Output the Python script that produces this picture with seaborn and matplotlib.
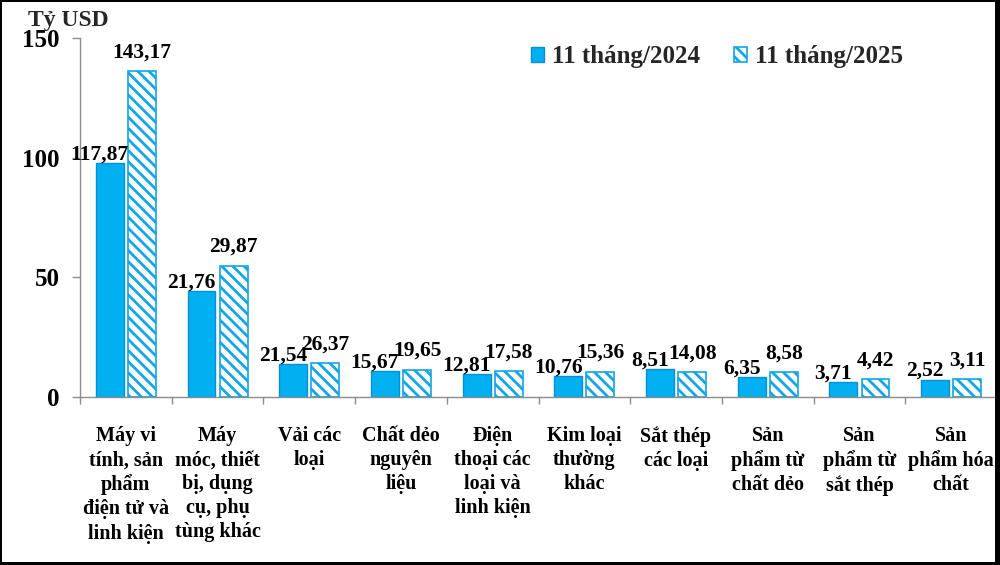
import matplotlib
matplotlib.use("Agg")
import matplotlib.pyplot as plt
from matplotlib.patches import Patch, Rectangle
import seaborn as sns
import pandas as pd

# ---------------- data ----------------
categories = [
    "Máy vi\ntính, sản\nphẩm\nđiện tử và\nlinh kiện",
    "Máy\nmóc, thiết\nbị, dụng\ncụ, phụ\ntùng khác",
    "Vải các\nloại",
    "Chất dẻo\nnguyên\nliệu",
    "Điện\nthoại các\nloại và\nlinh kiện",
    "Kim loại\nthường\nkhác",
    "Sắt thép\ncác loại",
    "Sản\nphẩm từ\nchất dẻo",
    "Sản\nphẩm từ\nsắt thép",
    "Sản\nphẩm hóa\nchất",
]
series = ["11 tháng/2024", "11 tháng/2025"]
# bar heights as drawn in the picture (Tỷ USD)
heights_2024 = [97.8, 44.1, 13.8, 10.7, 9.6, 8.6, 11.6, 8.2, 6.1, 7.3]
heights_2025 = [136.1, 54.9, 14.0, 11.3, 10.7, 10.6, 10.3, 10.3, 7.4, 7.4]
# value labels as printed on the picture
labels_2024 = ["117,87", "21,76", "21,54", "15,67", "12,81", "10,76", "8,51", "6,35", "3,71", "2,52"]
labels_2025 = ["143,17", "29,87", "26,37", "19,65", "17,58", "15,36", "14,08", "8,58", "4,42", "3,11"]
yticks = [0, 50, 100, 150]
unit_label = "Tỷ USD"

# ---------------- style ----------------
sns.set_theme(style="white")
plt.rcParams["font.family"] = ["Liberation Serif", "DejaVu Serif"]
plt.rcParams["font.weight"] = "bold"
plt.rcParams["hatch.linewidth"] = 2.0

fill_blue = "#00B0F0"
edge_blue = "#0A8FD6"
hatch_blue = "#12A6E8"
spine_grey = "#8C8C8C"

df = pd.DataFrame({
    "cat": categories * 2,
    "series": [series[0]] * len(categories) + [series[1]] * len(categories),
    "val": heights_2024 + heights_2025,
})

fig = plt.figure(figsize=(10, 5.65), dpi=100)
ax = fig.add_axes([0.08, 1 - 397 / 565, 0.917, 359 / 565])

sns.barplot(data=df, x="cat", y="val", hue="series", order=categories,
            hue_order=series, palette=[fill_blue, fill_blue], width=0.7,
            gap=0.128, edgecolor=edge_blue, linewidth=1.0, legend=False,
            saturation=1, ax=ax)

for bar in ax.containers[1]:
    bar.set_facecolor("white")
    bar.set_edgecolor(hatch_blue)
    bar.set_hatch("\\\\\\")
    bar.set_linewidth(1.2)

# value labels
for cont, labs, (dx, dy) in [(ax.containers[0], labels_2024, (-7.2, 2.5)),
                             (ax.containers[1], labels_2025, (0, 10))]:
    for bar, lab in zip(cont, labs):
        ax.annotate(lab, xy=(bar.get_x() + bar.get_width() / 2, bar.get_height()),
                    xytext=(dx, dy), textcoords="offset points", ha="center",
                    va="baseline", fontsize=15.5, fontweight="bold", color="black",
                    zorder=5)

ax.set_xlim(-0.5, len(categories) - 0.5)
ax.set_ylim(0, 150)
ax.set_yticks(yticks)
ax.set_yticklabels([str(t) for t in yticks], fontsize=18, fontweight="bold")
ax.set_xlabel("")
ax.set_ylabel("")
ax.set_xticks(range(len(categories)))
ax.set_xticklabels(categories, fontsize=14.5, fontweight="bold", linespacing=1.27)
ax.set_xticks([i - 0.5 for i in range(len(categories) + 1)], minor=True)
ax.tick_params(axis="x", which="major", length=0, pad=21, colors="black")
ax.tick_params(axis="x", which="minor", length=5, width=1, color=spine_grey, direction="out")
ax.tick_params(axis="y", which="major", length=5.5, width=1, color=spine_grey,
               direction="out", pad=9, labelcolor="black")
ax.tick_params(left=True, bottom=True)
ax.xaxis.set_tick_params(which="minor", bottom=True)

for s in ["top", "right"]:
    ax.spines[s].set_visible(False)
for s in ["left", "bottom"]:
    ax.spines[s].set_color(spine_grey)
    ax.spines[s].set_linewidth(1.0)
ax.set_facecolor("white")

# unit label
fig.text(28 / 1000, 1 - 26 / 565, unit_label, fontsize=17, fontweight="bold",
         ha="left", va="baseline")

# legend
handles = [Patch(facecolor=fill_blue, edgecolor=edge_blue, linewidth=1.0),
           Patch(facecolor="white", edgecolor=hatch_blue, hatch="\\\\\\", linewidth=1.2)]
fig.legend(handles, series, loc="center left", bbox_to_anchor=(0.531, 1 - 57 / 565),
           ncol=2, frameon=False, handlelength=0.52, handleheight=0.52,
           handletextpad=0.33, columnspacing=1.35, borderpad=0, borderaxespad=0,
           prop={"weight": "bold", "size": 18})

# black frame around the picture
for (x, y, w, h) in [(0, 0, 2 / 1000, 1), (0, 1 - 2 / 565, 1, 2 / 565),
                     (995 / 1000, 0, 5 / 1000, 1), (0, 0, 1, 3 / 565)]:
    fig.add_artist(Rectangle((x, y), w, h, transform=fig.transFigure,
                             facecolor="black", edgecolor="none", zorder=10))

fig.savefig("out.png", dpi=100, facecolor="white")
